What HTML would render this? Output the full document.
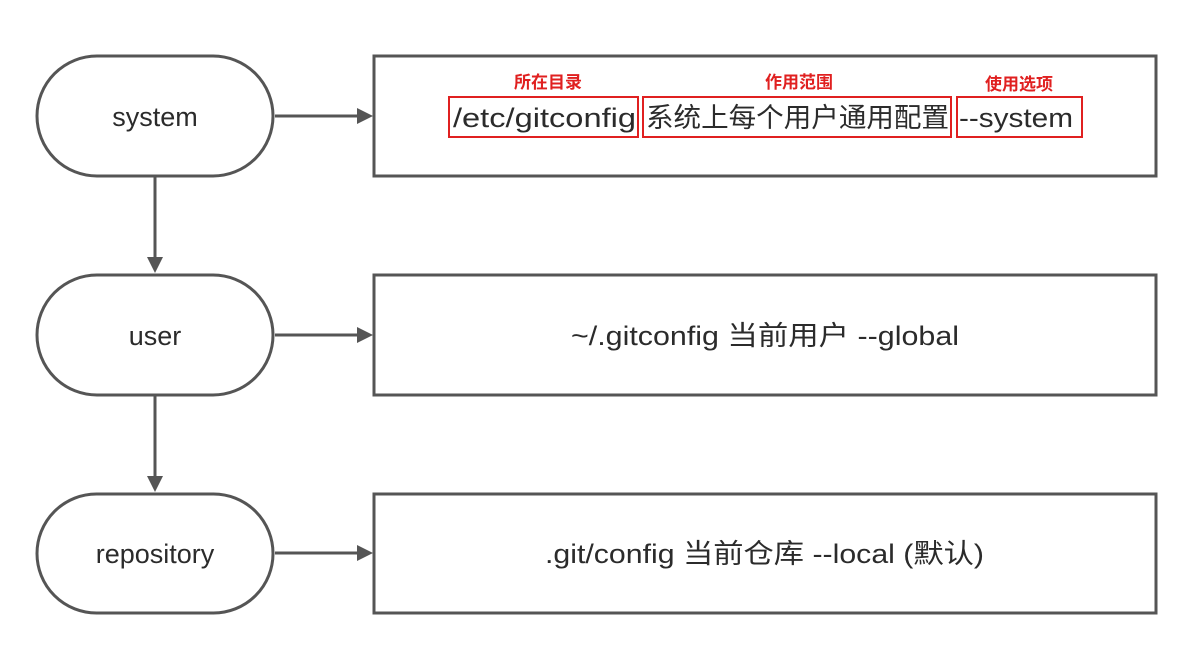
<!DOCTYPE html>
<html><head><meta charset="utf-8"><style>
body{margin:0;background:#fff;width:1198px;height:644px;overflow:hidden}
svg text{font-family:"Liberation Sans","Noto Sans CJK SC",sans-serif;fill:#2b2b2b}
</style></head><body>
<svg width="1198" height="644" viewBox="0 0 1198 644">
<g stroke="#555" stroke-width="3" fill="#fff">
<rect x="37" y="56" width="236" height="120" rx="60"/>
<rect x="37" y="275" width="236" height="120" rx="60"/>
<rect x="37" y="494" width="236" height="119" rx="59.5"/>
<rect x="374" y="56" width="782" height="120"/>
<rect x="374" y="275" width="782" height="120"/>
<rect x="374" y="494" width="782" height="119"/>
</g>
<g stroke="#555" stroke-width="3">
<line x1="275" y1="116" x2="360" y2="116"/>
<line x1="275" y1="335" x2="360" y2="335"/>
<line x1="275" y1="553" x2="360" y2="553"/>
<line x1="155" y1="177" x2="155" y2="260"/>
<line x1="155" y1="396" x2="155" y2="479"/>
</g>
<g fill="#555">
<path d="M357,108 L373,116 L357,124z"/>
<path d="M357,327 L373,335 L357,343z"/>
<path d="M357,545 L373,553 L357,561z"/>
<path d="M147,257 L155,273 L163,257z"/>
<path d="M147,476 L155,492 L163,476z"/>
</g>
<g font-size="27" text-anchor="middle">
<text x="155" y="126">system</text>
<text x="155" y="345">user</text>
<text x="155" y="563">repository</text>
</g>
<g font-size="27">
<text x="571" y="345" textLength="388" lengthAdjust="spacingAndGlyphs">~/.gitconfig 当前用户 --global</text>
<text x="545" y="563" textLength="439" lengthAdjust="spacingAndGlyphs">.git/config 当前仓库  --local (默认)</text>
<text x="453" y="127" textLength="183" lengthAdjust="spacingAndGlyphs">/etc/gitconfig</text>
<text x="646" y="127" textLength="303" lengthAdjust="spacingAndGlyphs">系统上每个用户通用配置</text>
<text x="959" y="127" textLength="114" lengthAdjust="spacingAndGlyphs">--system</text>
</g>
<g fill="none" stroke="#e02020" stroke-width="2">
<rect x="449" y="97" width="189" height="40"/>
<rect x="643" y="97" width="308" height="40"/>
<rect x="957" y="97" width="125" height="40"/>
</g>
<g font-size="17" font-weight="bold" text-anchor="middle">
<text x="548" y="88" style="fill:#e02020">所在目录</text>
<text x="799" y="88" style="fill:#e02020">作用范围</text>
<text x="1019" y="90" style="fill:#e02020">使用选项</text>
</g>
</svg>
</body></html>
